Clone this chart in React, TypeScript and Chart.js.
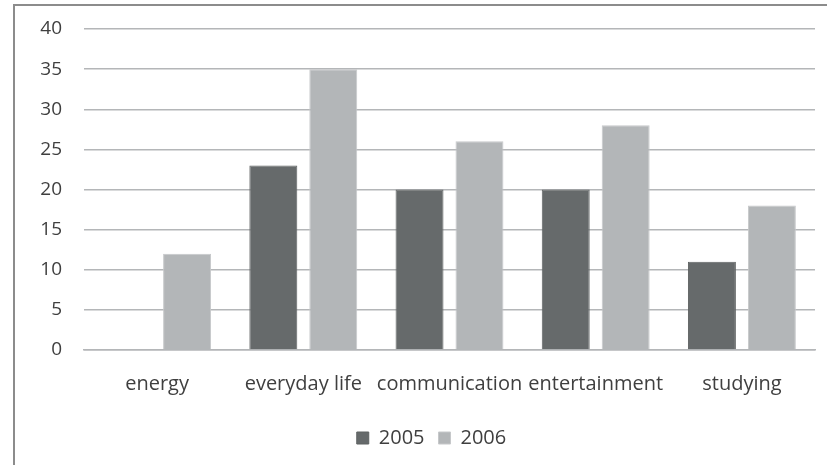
import React, { useEffect, useRef } from "react";
import { Chart, registerables } from "chart.js";

Chart.register(...registerables);

const categories = ["energy", "everyday life", "communication", "entertainment", "studying"];
const values2005 = [0, 23, 20, 20, 11];
const values2006 = [12, 35, 26, 28, 18];
const yTicks = { min: 0, max: 40, step: 5 };

const FONT = "'Open Sans', Lato, sans-serif";
const TEXT = "#3f3f3f";
const GRID = "#b4b6b8";

// The legend sits centred under the whole framed figure, a little right of the plot's centre.
const legendShift = {
  id: "legendShift",
  afterLayout(chart: any) {
    if (chart.legend) chart.legend.left += 48;
  },
};

export default function App() {
  const canvasRef = useRef<HTMLCanvasElement | null>(null);

  useEffect(() => {
    document.body.style.margin = "0";
    const ctx = canvasRef.current;
    if (!ctx) return;
    const chart = new Chart(ctx, {
      type: "bar",
      data: {
        labels: categories,
        datasets: [
          {
            label: "2005",
            data: values2005,
            backgroundColor: "#666a6b",
            borderColor: "#5f6363",
            borderWidth: 1,
          },
          {
            label: "2006",
            data: values2006,
            backgroundColor: "#b3b6b8",
            borderColor: "#c6c8ca",
            borderWidth: 1,
          },
        ],
      },
      plugins: [legendShift],
      options: {
        animation: false,
        responsive: false,
        maintainAspectRatio: false,
        layout: { padding: { left: 0, right: 12, top: 29, bottom: 7 } },
        datasets: {
          bar: { categoryPercentage: 0.82, barPercentage: 0.8 },
        },
        plugins: {
          legend: {
            position: "bottom",
            labels: {
              color: TEXT,
              font: { family: FONT, size: 20 },
              boxWidth: 12,
              boxHeight: 12,
              padding: 14,
            },
          },
          tooltip: { enabled: false },
        },
        scales: {
          x: {
            grid: { display: false },
            border: { display: true, color: GRID, width: 1.5 },
            ticks: {
              color: TEXT,
              font: { family: FONT, size: 20 },
              padding: 14,
              maxRotation: 0,
              autoSkip: false,
            },
            afterFit: (s: any) => {
              s.height = 64;
            },
          },
          y: {
            min: yTicks.min,
            max: yTicks.max,
            ticks: {
              stepSize: yTicks.step,
              color: TEXT,
              font: { family: FONT, size: 19 },
              padding: 22,
            },
            grid: { color: GRID, lineWidth: 1.5, drawTicks: false },
            border: { display: false },
            afterFit: (s: any) => {
              s.width = 84;
              s.paddingTop = 0;
              s.paddingBottom = 0;
            },
          },
        },
      },
    });
    return () => chart.destroy();
  }, []);

  return (
    <div style={{ position: "relative", width: 827, height: 465, overflow: "hidden", background: "#fff" }}>
      <div
        style={{
          position: "absolute",
          left: 13,
          top: 4,
          width: 840,
          height: 480,
          border: "2px solid #8c8c8c",
          boxSizing: "border-box",
        }}
      />
      <canvas
        ref={canvasRef}
        width={827}
        height={465}
        style={{ position: "absolute", left: 0, top: 0, width: 827, height: 465 }}
      />
    </div>
  );
}
